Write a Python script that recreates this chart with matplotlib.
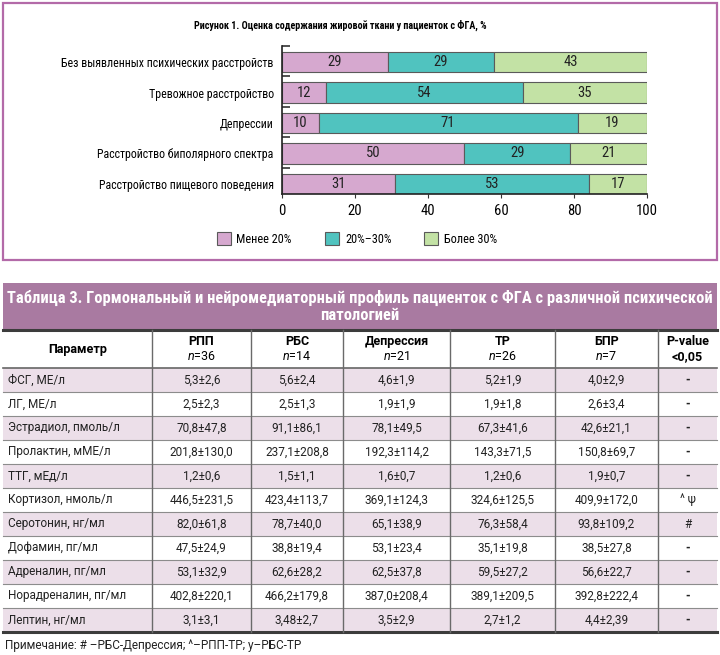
import matplotlib
matplotlib.use("Agg")
import matplotlib.pyplot as plt
from matplotlib import font_manager as fm
from matplotlib.font_manager import FontProperties
from matplotlib.patches import Rectangle, Patch
import numpy as np

# ---------------- data ----------------
categories = ['Без выявленных психических расстройств', 'Тревожное расстройство',
              'Депрессии', 'Расстройство биполярного спектра',
              'Расстройство пищевого поведения']
less20 = [29, 12, 10, 50, 31]
mid2030 = [29, 54, 71, 29, 53]
more30 = [43, 35, 19, 21, 17]
series_labels = ['Менее 20%', '20%–30%', 'Более 30%']
xticks = [0, 20, 40, 60, 80, 100]

chart_title = 'Рисунок 1. Оценка содержания жировой ткани у пациенток с ФГА, %'
table_title = ['Таблица 3. Гормональный и нейромедиаторный профиль пациенток с ФГА с различной психической',
               'патологией']
col_names = ['РПП', 'РБС', 'Депрессия', 'ТР', 'БПР']
col_n = ['36', '14', '21', '26', '7']
params = ['ФСГ, МЕ/л', 'ЛГ, МЕ/л', 'Эстрадиол, пмоль/л', 'Пролактин, мМЕ/л', 'ТТГ, мЕд/л',
          'Кортизол, нмоль/л', 'Серотонин, нг/мл', 'Дофамин, пг/мл', 'Адреналин, пг/мл',
          'Норадреналин, пг/мл', 'Лептин, нг/мл']
rpp = ['5,3±2,6', '2,5±2,3', '70,8±47,8', '201,8±130,0', '1,2±0,6', '446,5±231,5',
       '82,0±61,8', '47,5±24,9', '53,1±32,9', '402,8±220,1', '3,1±3,1']
rbs = ['5,6±2,4', '2,5±1,3', '91,1±86,1', '237,1±208,8', '1,5±1,1', '423,4±113,7',
       '78,7±40,0', '38,8±19,4', '62,6±28,2', '466,2±179,8', '3,48±2,7']
depr = ['4,6±1,9', '1,9±1,9', '78,1±49,5', '192,3±114,2', '1,6±0,7', '369,1±124,3',
        '65,1±38,9', '53,1±23,4', '62,5±37,8', '387,0±208,4', '3,5±2,9']
tr = ['5,2±1,9', '1,9±1,8', '67,3±41,6', '143,3±71,5', '1,2±0,6', '324,6±125,5',
      '76,3±58,4', '35,1±19,8', '59,5±27,2', '389,1±209,5', '2,7±1,2']
bpr = ['4,0±2,9', '2,6±3,4', '42,6±21,1', '150,8±69,7', '1,9±0,7', '409,9±172,0',
       '93,8±109,2', '38,5±27,8', '56,6±22,7', '392,8±222,4', '4,4±2,39']
pval = ['-', '-', '-', '-', '-', '^ ψ', '#', '-', '-', '-', '-']
note = 'Примечание: # –РБС-Депрессия; ^–РПП-ТР; у–РБС-ТР'

# ---------------- fonts ----------------
avail = {f.name for f in fm.fontManager.ttflist}
BODY = 'Roboto' if 'Roboto' in avail else 'DejaVu Sans'


def find_condensed(bold):
    prefs = ['Liberation Sans Narrow', 'Roboto Condensed', 'Open Sans Condensed',
             'DejaVu Sans Condensed', 'Noto Sans Condensed', 'DejaVu Sans', 'Noto Sans',
             'Open Sans', 'Roboto']
    best = None
    for pname in prefs:
        for f in fm.fontManager.ttflist:
            cond = ('Narrow' in f.name or 'Condensed' in f.name or
                    str(f.stretch) in ('condensed', 'semi-condensed'))
            if f.name != pname or not cond or f.style != 'normal':
                continue
            w = f.weight if isinstance(f.weight, int) else (700 if 'bold' in str(f.weight) else 400)
            if bold and w >= 600 or (not bold and 350 <= w <= 500):
                best = f.fname
                break
        if best:
            break
    if best:
        return FontProperties(fname=best)
    return FontProperties(family=BODY, weight='bold' if bold else 'normal')


FP_R = find_condensed(False)
FP_B = find_condensed(True)
plt.rcParams['font.family'] = [BODY, 'DejaVu Sans']
plt.rcParams['mathtext.fontset'] = 'custom'
plt.rcParams['mathtext.it'] = BODY + ':italic'
plt.rcParams['mathtext.rm'] = BODY

C_PINK = '#d6a8cf'
C_TEAL = '#50c3bf'
C_GREEN = '#c3e2a5'
EDGE = '#5a5a5a'

W, H = 720, 655
fig = plt.figure(figsize=(7.2, 6.55), dpi=100)
renderer = fig.canvas.get_renderer()


def fx(px):
    return px / W


def fy(py):
    return 1 - py / H


def fit(texts, target_px):
    """scale font so that the widest text equals target width in pixels"""
    wmax = max(t.get_window_extent(renderer).width for t in texts)
    for t in texts:
        t.set_fontsize(t.get_fontsize() * target_px / wmax)
    return texts[0].get_fontsize()


# background pixel-space axes for frame & table
tax = fig.add_axes([0, 0, 1, 1], zorder=0)
tax.set_xlim(0, W)
tax.set_ylim(H, 0)
tax.axis('off')

tax.add_patch(Rectangle((3, 3), 714, 257, fill=False, ec='#b36aa8', lw=1.6))

# ---------------- bar chart ----------------
top_px, bot_px = 46, 194
ax = fig.add_axes([fx(282), fy(bot_px), fx(647) - fx(282), (bot_px - top_px) / H], zorder=2)
ypos = np.arange(len(categories))
bh = 0.68
left = np.zeros(len(categories))
for vals, col in zip([less20, mid2030, more30], [C_PINK, C_TEAL, C_GREEN]):
    vals = np.array(vals, dtype=float)
    widths = np.minimum(vals, 100 - left)
    bars = ax.barh(ypos, widths, left=left, height=bh, color=col, edgecolor=EDGE, linewidth=0.8)
    for b, v in zip(bars, vals):
        t = ax.text(b.get_x() + b.get_width() / 2, b.get_y() + b.get_height() / 2, f'{int(v)}',
                    ha='center', va='center', color='#222222', fontproperties=FP_R)
        t.set_fontsize(10.5)
    left = left + widths

ax.set_xlim(0, 100)
ax.set_ylim(len(categories) - 1 + 0.33, -0.53)
ax.set_xticks(xticks)
ax.set_xticklabels([str(t) for t in xticks])
ax.set_yticks(ypos)
ax.set_yticklabels(categories)
for t in ax.get_xticklabels():
    t.set_fontproperties(FP_R)
    t.set_fontsize(10.5)
ylabels = ax.get_yticklabels()
for t in ylabels:
    t.set_fontproperties(FP_R)
    t.set_fontsize(10)
cat_fs = fit(ylabels, 213)
ax.set_yticks(ypos - 0.53, minor=True)
ax.tick_params(axis='y', which='major', length=0, pad=6)
ax.tick_params(axis='y', which='minor', length=6, width=1.2, direction='in', color='#333333')
ax.tick_params(axis='x', which='major', length=3, width=0.8, pad=4, color='#333333')
for s in ['top', 'right']:
    ax.spines[s].set_visible(False)
for s in ['left', 'bottom']:
    ax.spines[s].set_linewidth(1.2)
    ax.spines[s].set_color('#222222')

tt = fig.text(fx(340), fy(25), chart_title, ha='center', va='center', fontproperties=FP_B)
tt.set_fontsize(9)
fit([tt], 290)

handles = [Patch(facecolor=c, edgecolor=EDGE, linewidth=0.8) for c in [C_PINK, C_TEAL, C_GREEN]]
leg_fs = cat_fs * 1.03
em = leg_fs * 100 / 72
leg_prop = FP_R.copy()
leg_prop.set_size(leg_fs)
fig.legend(handles, series_labels, loc='center', bbox_to_anchor=(fx(357), fy(239)), ncol=3,
           frameon=False, handlelength=14 / em, handleheight=14 / em, handletextpad=6 / em,
           columnspacing=33 / em, prop=leg_prop)

# ---------------- table ----------------
band_top, band_bot = 283, 330
head_bot = 368
row_h = 24
cols_x = [3, 152, 251, 343, 450, 555, 658, 717]
n_rows = len(params)
table_bot = head_bot + n_rows * row_h

tax.add_patch(Rectangle((3, band_top), 714, band_bot - band_top, fc='#a97aa1', ec='none'))
t1 = tax.text(360, 298, table_title[0], ha='center', va='center', color='white', fontproperties=FP_B)
t2 = tax.text(360, 316, table_title[1], ha='center', va='center', color='white', fontproperties=FP_B)
t1.set_fontsize(11)
t2.set_fontsize(11)
fs_title = fit([t1], 700)
t2.set_fontsize(fs_title)

for i in range(n_rows):
    top = head_bot + i * row_h
    if i % 2 == 0:
        tax.add_patch(Rectangle((3, top), 714, row_h, fc='#ecdfe9', ec='none'))
    if i > 0:
        tax.plot([3, 717], [top, top], color='#8c8c8c', lw=0.8)
tax.plot([3, 717], [head_bot, head_bot], color='#666666', lw=1.2)
tax.plot([3, 717], [band_bot, band_bot], color='#3c3c3c', lw=2.2)
tax.plot([3, 717], [table_bot, table_bot], color='#3c3c3c', lw=2.2)
for x in cols_x[1:-1]:
    tax.plot([x, x], [band_bot, table_bot], color='#6a6a6a', lw=1.0)

# header
hy = (band_bot + head_bot) / 2
tax.text((cols_x[0] + cols_x[1]) / 2, hy, 'Параметр', ha='center', va='center',
         fontsize=9, fontweight='bold')
for j, (nm, n) in enumerate(zip(col_names, col_n)):
    cx = (cols_x[j + 1] + cols_x[j + 2]) / 2
    tax.text(cx, hy - 7.5, nm, ha='center', va='center', fontsize=9, fontweight='bold')
    tax.text(cx, hy + 7.5, r'$\mathit{n}$=' + n, ha='center', va='center', fontsize=9)
cx = (cols_x[6] + cols_x[7]) / 2
tax.text(cx, hy - 7.5, 'P-value', ha='center', va='center', fontsize=9, fontweight='bold')
tax.text(cx, hy + 7.5, '<0,05', ha='center', va='center', fontsize=9, fontweight='bold')

# body
cols_data = [rpp, rbs, depr, tr, bpr, pval]
for i in range(n_rows):
    cy = head_bot + i * row_h + row_h / 2
    tax.text(8, cy, params[i], ha='left', va='center', fontsize=8.5, color='#222222')
    for j, colvals in enumerate(cols_data):
        cx = (cols_x[j + 1] + cols_x[j + 2]) / 2
        tax.text(cx, cy, colvals[i], ha='center', va='center', fontsize=8.5, color='#222222',
                 fontweight='bold' if (j == 5 and colvals[i] == '-') else 'normal')

tax.text(5, 645, note, ha='left', va='center', fontsize=8.5, color='#222222')

fig.savefig('out.png', dpi=100)
